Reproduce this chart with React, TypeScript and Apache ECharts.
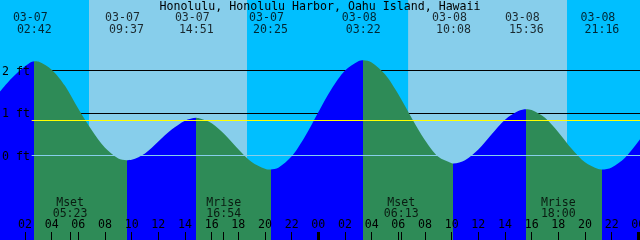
import React, { useEffect, useRef } from 'react';
import * as echarts from 'echarts';

const chartTitle = 'Honolulu, Honolulu Harbor, Oahu Island, Hawaii';
const days = ['03-07', '03-08'];

// hourly tide heights (ft), hours since 03-07 00:00
const tideHours = [
  0, 1, 2, 3, 4, 5, 6, 7, 8, 9, 10, 11, 12, 13, 14, 15, 16, 17, 18, 19, 20, 21, 22, 23, 24,
  25, 26, 27, 28, 29, 30, 31, 32, 33, 34, 35, 36, 37, 38, 39, 40, 41, 42, 43, 44, 45, 46, 47, 48, 49,
];
const tideFeet = [
  1.46, 1.82, 2.1, 2.21, 2.02, 1.64, 1.1, 0.6, 0.18, -0.07, -0.1, 0.05, 0.33, 0.61, 0.82, 0.88,
  0.76, 0.49, 0.15, -0.15, -0.31, -0.29, -0.02, 0.45, 1.02, 1.57, 2.0, 2.22, 2.19, 1.91, 1.44,
  0.88, 0.36, -0.03, -0.18, -0.11, 0.14, 0.5, 0.84, 1.05, 1.07, 0.89, 0.55, 0.16, -0.16, -0.32,
  -0.28, -0.05, 0.33, 0.79,
];

// high / low tides
const extremaDates = ['03-07', '03-07', '03-07', '03-07', '03-08', '03-08', '03-08', '03-08'];
const extremaTimes = ['02:42', '09:37', '14:51', '20:25', '03:22', '10:08', '15:36', '21:16'];
const extremaFeet = [2.22, -0.11, 0.89, -0.33, 2.24, -0.19, 1.09, -0.33];

// sun
const sunriseDates = ['03-07', '03-08'];
const sunriseTimes = ['06:48', '06:44'];
const sunsetDates = ['03-07', '03-08'];
const sunsetTimes = ['18:39', '18:39'];

// moon
const moonEvents = ['Mset', 'Mrise', 'Mset', 'Mrise'];
const moonDates = ['03-07', '03-07', '03-08', '03-08'];
const moonTimes = ['05:23', '16:54', '06:13', '18:00'];

const hourTicks = [0, 2, 4, 6, 8, 10, 12, 14, 16, 18, 20, 22, 24, 26, 28, 30, 32, 34, 36, 38, 40, 42, 44, 46, 48];
const midnightTicks = [24, 48];
const heightTicks = [0, 1, 2];
const gridHeights = [1, 2];
const datumFeet = 0;
const meanSeaLevelFeet = 0.82;

const NIGHT = '#00BFFF';
const DAY = '#87CEEB';
const RISE = '#0000FF';
const FALL = '#2E8B57';
const MSL = '#FFFF00';
const DATUM = '#87CEEB';
const FONT = 'DejaVu Sans Mono';
const FS = 11.6;

const X_MIN = 0.125;
const X_MAX = 48.125;
const Y_MIN = -1.988;
const Y_MAX = 3.659;
const LINE_START = 2.5;

const toHours = (date: string, time: string) => {
  const [hh, mm] = time.split(':').map(Number);
  return days.indexOf(date) * 24 + hh + mm / 60;
};
const pad = (v: number) => String(((v % 24) + 24) % 24).padStart(2, '0');

export default function App() {
  const ref = useRef<HTMLDivElement>(null);
  useEffect(() => {
    if (!ref.current) return;
    const chart = echarts.init(ref.current, undefined, { renderer: 'svg' });

    const extremaHours = extremaDates.map((d, i) => toHours(d, extremaTimes[i]));
    const tideData: number[][] = tideHours.map((h, i) => [h, tideFeet[i]]);
    extremaHours.forEach((h, i) => tideData.push([h, extremaFeet[i]]));
    tideData.sort((a, b) => a[0] - b[0]);

    // rising (blue) / falling (green) pieces
    const pieces: any[] = [];
    const firstIsHigh = extremaFeet[0] > extremaFeet[1];
    pieces.push({ lt: extremaHours[0], color: firstIsHigh ? RISE : FALL });
    extremaHours.forEach((h, i) => {
      const isHigh = i + 1 < extremaFeet.length ? extremaFeet[i] > extremaFeet[i + 1] : extremaFeet[i] > extremaFeet[i - 1];
      const p: any = { gte: h, color: isHigh ? FALL : RISE };
      if (i + 1 < extremaHours.length) p.lt = extremaHours[i + 1];
      pieces.push(p);
    });

    const dayAreas = sunriseDates.map((d, i) => [
      { xAxis: toHours(d, sunriseTimes[i]) },
      { xAxis: toHours(sunsetDates[i], sunsetTimes[i]) },
    ]);

    const moonHours = moonDates.map((d, i) => toHours(d, moonTimes[i]));

    const textStyle = { fontFamily: FONT, fontSize: FS, color: '#000' };

    chart.setOption({
      animation: false,
      title: {
        text: chartTitle,
        left: 'center',
        top: 0,
        padding: 0,
        textStyle: { ...textStyle, fontWeight: 'normal' },
      },
      grid: {
        left: 0,
        right: 0,
        top: 0,
        bottom: 0,
        show: true,
        backgroundColor: NIGHT,
        borderWidth: 0,
        containLabel: false,
        outerBoundsMode: 'none',
      },
      xAxis: [
        {
          type: 'value',
          min: X_MIN,
          max: X_MAX,
          z: 10,
          position: 'bottom',
          axisLine: { show: false, onZero: false },
          splitLine: { show: false },
          axisTick: {
            show: true,
            inside: true,
            length: 8,
            customValues: [...hourTicks, ...moonHours],
            lineStyle: { color: '#000', width: 1 },
          },
          axisLabel: {
            show: true,
            inside: true,
            margin: 10,
            hideOverlap: false,
            customValues: hourTicks,
            formatter: (v: number) => pad(v),
            ...textStyle,
          },
        },
        {
          type: 'value',
          min: X_MIN,
          max: X_MAX,
          z: 10,
          position: 'bottom',
          axisLine: { show: false, onZero: false },
          splitLine: { show: false },
          axisLabel: { show: false },
          axisTick: {
            show: true,
            inside: true,
            length: 8,
            customValues: midnightTicks,
            lineStyle: { color: '#000', width: 3 },
          },
        },
      ],
      yAxis: {
        type: 'value',
        min: Y_MIN,
        max: Y_MAX,
        z: 10,
        axisLine: { show: false, onZero: false },
        axisTick: { show: false },
        splitLine: { show: false },
        axisLabel: {
          show: true,
          inside: true,
          margin: 2,
          customValues: heightTicks,
          formatter: (v: number) => `${v} ft`,
          ...textStyle,
        },
      },
      visualMap: { type: 'piecewise', show: false, dimension: 0, seriesIndex: 2, pieces },
      series: [
        {
          type: 'line',
          data: [],
          z: 1,
          silent: true,
          markArea: { silent: true, z: 1, itemStyle: { color: DAY }, data: dayAreas },
        },
        {
          type: 'line',
          data: [],
          silent: true,
          markLine: {
            z: 2,
            silent: true,
            symbol: ['none', 'none'],
            label: { show: false },
            lineStyle: { color: '#000', width: 1, type: 'solid' },
            data: gridHeights.map((v) => [{ coord: [LINE_START, v] }, { coord: [X_MAX, v] }]),
          },
        },
        {
          type: 'line',
          data: tideData,
          z: 3,
          smooth: 0.3,
          showSymbol: false,
          silent: true,
          lineStyle: { width: 0 },
          areaStyle: { origin: 'start', opacity: 1 },
          markLine: {
            z: 5,
            silent: true,
            symbol: ['none', 'none'],
            label: { show: false },
            data: [
              [
                { coord: [LINE_START, datumFeet], lineStyle: { color: DATUM, width: 1, type: 'solid' } },
                { coord: [X_MAX, datumFeet] },
              ],
              [
                { coord: [LINE_START, meanSeaLevelFeet], lineStyle: { color: MSL, width: 1, type: 'solid' } },
                { coord: [X_MAX, meanSeaLevelFeet] },
              ],
            ],
          },
        },
        {
          type: 'scatter',
          z: 6,
          silent: true,
          symbolSize: 0,
          itemStyle: { color: 'transparent' },
          data: extremaHours.map((h, i) => ({ value: [h, Y_MAX], name: extremaDates[i] })),
          label: { show: true, position: 'inside', offset: [-4, 17], formatter: (p: any) => p.name, ...textStyle },
        },
        {
          type: 'scatter',
          z: 6,
          silent: true,
          symbolSize: 0,
          itemStyle: { color: 'transparent' },
          data: extremaHours.map((h, i) => ({ value: [h, Y_MAX], name: extremaTimes[i] })),
          label: { show: true, position: 'inside', offset: [0, 29], formatter: (p: any) => p.name, ...textStyle },
        },
        {
          type: 'scatter',
          z: 6,
          silent: true,
          symbolSize: 0,
          itemStyle: { color: 'transparent' },
          data: moonHours.map((h, i) => ({ value: [h, Y_MIN], name: moonEvents[i] })),
          label: { show: true, position: 'inside', offset: [0, -38], formatter: (p: any) => p.name, ...textStyle },
        },
        {
          type: 'scatter',
          z: 6,
          silent: true,
          symbolSize: 0,
          itemStyle: { color: 'transparent' },
          data: moonHours.map((h, i) => ({ value: [h, Y_MIN], name: moonTimes[i] })),
          label: { show: true, position: 'inside', offset: [0, -27], formatter: (p: any) => p.name, ...textStyle },
        },
      ],
    });
    return () => chart.dispose();
  }, []);
  return <div ref={ref} style={{ position: 'fixed', left: 0, top: 0, width: 640, height: 240 }} />;
}
